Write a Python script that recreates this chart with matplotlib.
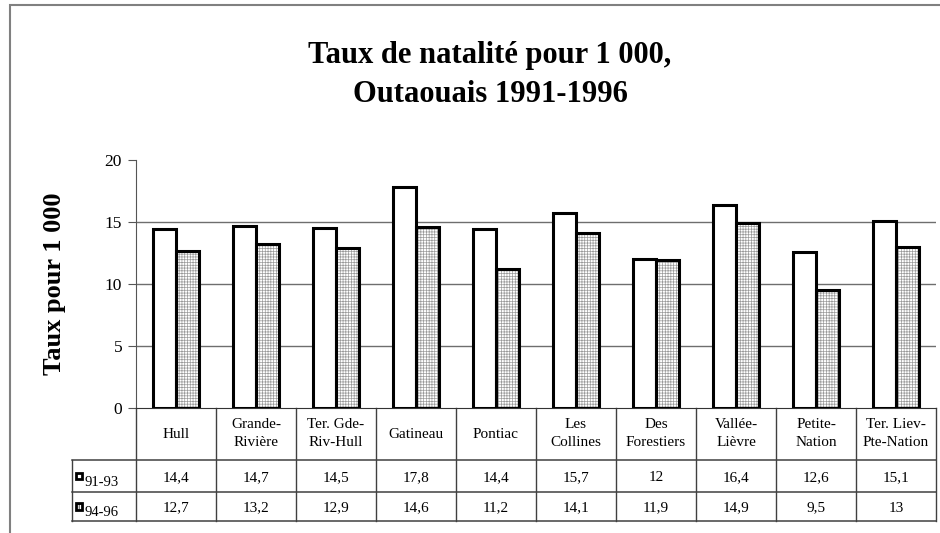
import numpy as np
import matplotlib.pyplot as plt
from matplotlib.patches import Rectangle
from matplotlib.transforms import blended_transform_factory

categories = ['Hull', 'Grande-\nRivière', 'Ter. Gde-\nRiv-Hull', 'Gatineau', 'Pontiac',
              'Les\nCollines', 'Des\nForestiers', 'Vallée-\nLièvre', 'Petite-\nNation',
              'Ter. Liev-\nPte-Nation']
series_names = ['91-93', '94-96']
v9193 = [14.4, 14.7, 14.5, 17.8, 14.4, 15.7, 12.0, 16.4, 12.6, 15.1]
v9496 = [12.7, 13.2, 12.9, 14.6, 11.2, 14.1, 11.9, 14.9, 9.5, 13.0]
lab9193 = ['14,4', '14,7', '14,5', '17,8', '14,4', '15,7', '12', '16,4', '12,6', '15,1']
lab9496 = ['12,7', '13,2', '12,9', '14,6', '11,2', '14,1', '11,9', '14,9', '9,5', '13']
yticks = [0, 5, 10, 15, 20]

plt.rcParams['font.family'] = ['Liberation Serif', 'DejaVu Serif']
plt.rcParams['hatch.linewidth'] = 0.5

W, H = 940, 533
fig = plt.figure(figsize=(W / 100, H / 100), dpi=100)
ax = fig.add_axes([136 / W, 1 - 408 / H, 800 / W, 248 / H])

n = len(categories)
x = np.arange(n) + 0.5
bw = 0.29

# first series: white bars
ax.bar(x - bw / 2, v9193, bw, color='white', edgecolor='black', linewidth=2.2, zorder=3)
# second series: fine gray grid
ax.bar(x + bw / 2, v9496, bw, color='white', edgecolor='#9a9a9a', hatch='++++++',
       linewidth=0, zorder=3)
ax.bar(x + bw / 2, v9496, bw, fill=False, edgecolor='black', linewidth=2.2, zorder=4)

ax.set_xlim(0, n)
ax.set_ylim(0, 20)
ax.set_yticks(yticks)
ax.set_yticklabels([str(t) for t in yticks], fontsize=12.5)
ax.set_xticks([])
for t in [5, 10, 15]:
    ax.axhline(t, color='#6e6e6e', linewidth=1, zorder=1)
for s in ['top', 'right']:
    ax.spines[s].set_visible(False)
ax.spines['left'].set_color('#555555')
ax.spines['bottom'].set_color('#333333')
ax.tick_params(axis='y', length=6, color='#555555', pad=4)

ax.set_ylabel('Taux pour 1 000', fontsize=19, fontweight='bold', labelpad=28)

# data table under the plot
tr = blended_transform_factory(ax.transData, ax.transAxes)
h0, h1, h2, h3 = 0.0, -52 / 248, -84 / 248, -113 / 248
lc = '#404040'
lbl_left = -0.8
for i in range(n + 1):
    ax.plot([i, i], [h0, h3], color=lc, lw=1, transform=tr, clip_on=False)
ax.plot([lbl_left, lbl_left], [h1, h3], color=lc, lw=1, transform=tr, clip_on=False)
for yy in [h1, h2, h3]:
    ax.plot([lbl_left, n], [yy, yy], color=lc, lw=1.1, transform=tr, clip_on=False)

for i, c in enumerate(categories):
    ax.text(x[i], (h0 + h1) / 2, c, ha='center', va='center', fontsize=11,
            linespacing=1.5, transform=tr)
    ax.text(x[i], (h1 + h2) / 2, lab9193[i], ha='center', va='center_baseline',
            fontsize=11, transform=tr)
    ax.text(x[i], (h2 + h3) / 2, lab9496[i], ha='center', va='center_baseline',
            fontsize=11, transform=tr)

# legend keys in the row label cells
for k, (top, bot) in enumerate([(h1, h2), (h2, h3)]):
    yc = (top + bot) / 2
    sq = Rectangle((lbl_left + 0.055, yc - 0.013), 0.07, 0.027, transform=tr,
                   facecolor='white', edgecolor='black', linewidth=2.0,
                   hatch='++' if k == 1 else None, clip_on=False, zorder=5)
    ax.add_patch(sq)
    ax.text(lbl_left + 0.155, yc - 0.02, series_names[k], ha='left', va='center_baseline',
            fontsize=10.5, transform=tr)

fig.text(490 / W, 1 - 75 / H, 'Taux de natalité pour 1 000,\nOutaouais 1991-1996',
         ha='center', va='center', fontsize=22, fontweight='bold', linespacing=1.5)

# outer chart frame
fig.patches.append(Rectangle((10 / W, -0.1), 1.2, 1 - 5 / H + 0.1, transform=fig.transFigure,
                             fill=False, edgecolor='#808080', linewidth=1.5))

fig.savefig('out.png', dpi=100)
